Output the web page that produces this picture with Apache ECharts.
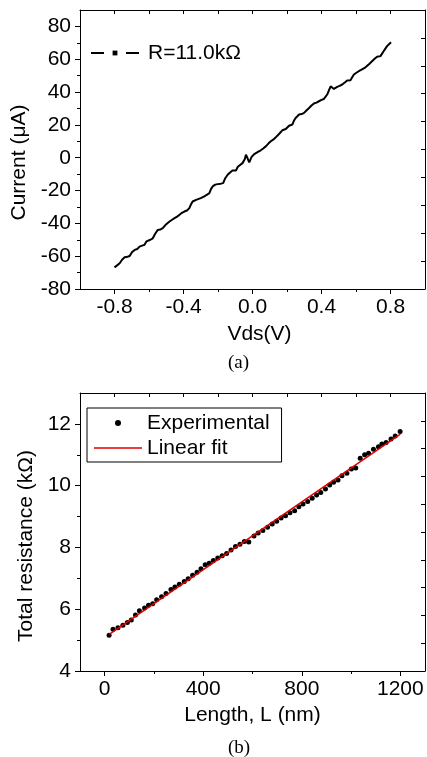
<!DOCTYPE html>
<html>
<head>
<meta charset="utf-8">
<script src="https://cdn.jsdelivr.net/npm/echarts@6/dist/echarts.min.js"></script>
<style>
html, body { margin: 0; padding: 0; background: #fff; }
#chart { width: 427px; height: 757px; }
</style>
</head>
<body>
<div id="chart"></div>
<script>
// (a) I-V curve
const vds = [-0.800, -0.785, -0.770, -0.755, -0.741, -0.725, -0.712, -0.698, -0.683, -0.668,
  -0.655, -0.640, -0.626, -0.615, -0.607, -0.592, -0.578, -0.565, -0.549, -0.535,
  -0.520, -0.500, -0.481, -0.466, -0.452, -0.437, -0.423, -0.409, -0.395, -0.380,
  -0.366, -0.356, -0.347, -0.327, -0.300, -0.279, -0.265, -0.250, -0.240, -0.231,
  -0.216, -0.202, -0.183, -0.170, -0.158, -0.144, -0.130, -0.116, -0.096, -0.085,
  -0.077, -0.058, -0.045, -0.038, -0.028, -0.019, -0.005, 0.010, 0.020, 0.034,
  0.048, 0.062, 0.077, 0.092, 0.106, 0.120, 0.135, 0.155, 0.173, 0.193,
  0.203, 0.212, 0.231, 0.240, 0.250, 0.270, 0.285, 0.299, 0.314, 0.328,
  0.342, 0.356, 0.371, 0.385, 0.400, 0.414, 0.424, 0.433, 0.443, 0.453,
  0.462, 0.472, 0.491, 0.505, 0.520, 0.535, 0.549, 0.568, 0.578, 0.588,
  0.600, 0.616, 0.635, 0.655, 0.675, 0.693, 0.708, 0.722, 0.742, 0.760,
  0.780, 0.803];
const current = [-66.8, -65.6, -64.3, -62.0, -60.7, -60.3, -59.9, -57.5, -56.2, -55.6,
  -54.2, -53.6, -53.1, -51.0, -50.1, -50.0, -49.1, -46.5, -44.0, -43.8,
  -42.9, -40.5, -38.9, -37.8, -36.8, -35.9, -34.8, -33.6, -32.8, -32.2,
  -30.7, -28.3, -26.7, -25.7, -24.6, -23.6, -22.6, -21.6, -19.0, -17.5,
  -16.4, -16.1, -15.8, -15.5, -12.5, -10.4, -9.0, -7.8, -7.8, -5.5,
  -4.3, -3.3, -1.0, 1.8, -0.5, -2.9, 0.5, 2.2, 2.9, 3.7,
  4.5, 5.6, 6.9, 8.6, 10.0, 11.0, 12.4, 14.6, 16.7, 17.5,
  18.6, 19.5, 20.2, 22.5, 24.2, 26.3, 26.6, 27.3, 28.9, 30.3,
  31.8, 33.0, 33.6, 34.4, 35.2, 35.8, 37.0, 38.5, 41.0, 43.5,
  42.5, 41.9, 43.2, 43.8, 44.6, 45.8, 47.0, 47.2, 49.0, 50.7,
  51.6, 52.7, 53.8, 55.1, 57.0, 58.8, 60.3, 61.5, 61.9, 64.9,
  68.0, 70.4];

// (b) resistance vs length
const lengthNm = [18, 34, 54, 74, 92, 108, 125, 141, 162, 178,
  195, 211, 231, 249, 269, 285, 303, 323, 339, 357,
  375, 391, 408, 424, 441, 459, 477, 495, 513, 531,
  549, 567, 585, 606, 623, 642, 661, 680, 698, 716,
  734, 752, 771, 788, 805, 824, 842, 860, 877, 896,
  913, 929, 947, 963, 983, 1001, 1019, 1037, 1055, 1071,
  1091, 1111, 1125, 1142, 1162, 1179, 1199];
const resistance = [5.16, 5.35, 5.40, 5.48, 5.57, 5.65, 5.81, 5.95, 6.04, 6.13,
  6.18, 6.31, 6.40, 6.51, 6.64, 6.72, 6.81, 6.90, 6.99, 7.10,
  7.20, 7.31, 7.44, 7.49, 7.58, 7.66, 7.73, 7.80, 7.92, 8.03,
  8.10, 8.19, 8.18, 8.37, 8.47, 8.55, 8.65, 8.76, 8.85, 8.95,
  9.03, 9.12, 9.19, 9.32, 9.41, 9.49, 9.59, 9.70, 9.78, 9.89,
  10.02, 10.11, 10.18, 10.32, 10.40, 10.54, 10.57, 10.89, 11.00, 11.05,
  11.18, 11.26, 11.35, 11.40, 11.51, 11.61, 11.75];
const fitLength = [20, 1200];
const fitResistance = [5.19, 11.67];

// ticks
const vdsTicks = [-0.8, -0.4, 0, 0.4, 0.8];
const vdsMinor = [-0.6, -0.2, 0.2, 0.6];
const currentTicks = [-80, -60, -40, -20, 0, 20, 40, 60, 80];
const currentMinor = [-70, -50, -30, -10, 10, 30, 50, 70];
const lengthTicks = [0, 400, 800, 1200];
const lengthMinor = [200, 600, 1000];
const resTicks = [4, 6, 8, 10, 12];
const resMinor = [5, 7, 9, 11];

const FONT = 'Liberation Sans';
const black = '#000';
const red = '#e00000';

function labelAxis(grid, pos, min, max, ticks, fmt, name, nameGap, namePad, margin) {
  return {
    type: 'value', gridIndex: grid, position: pos, min: min, max: max,
    axisLine: { show: true, onZero: false, lineStyle: { color: black, width: 1 } },
    axisTick: { show: true, inside: false, length: 5, customValues: ticks, lineStyle: { color: black } },
    axisLabel: { show: true, customValues: ticks, formatter: fmt, margin: margin,
      color: black, fontSize: 21, fontFamily: FONT },
    splitLine: { show: false },
    name: name, nameLocation: 'middle', nameGap: nameGap,
    nameTextStyle: { color: black, fontSize: 21, fontFamily: FONT, padding: namePad }
  };
}
function minorAxis(grid, pos, min, max, ticks) {
  return {
    type: 'value', gridIndex: grid, position: pos, min: min, max: max,
    axisLine: { show: false, onZero: false },
    axisTick: { show: true, inside: false, length: 3, customValues: ticks, lineStyle: { color: black } },
    axisLabel: { show: false },
    splitLine: { show: false }
  };
}
function frameAxis(grid, pos) {
  return {
    type: 'value', gridIndex: grid, position: pos, min: 0, max: 10, interval: 1,
    axisLine: { show: true, onZero: false, lineStyle: { color: black, width: 1 } },
    axisTick: { show: true, inside: true, length: 4, lineStyle: { color: black } },
    axisLabel: { show: false },
    splitLine: { show: false }
  };
}

const chart = echarts.init(document.getElementById('chart'));
chart.setOption({
  animation: false,
  backgroundColor: '#fff',
  title: [
    { text: '(a)', left: 228, top: 354, padding: 0,
      textStyle: { fontFamily: 'Liberation Serif', fontSize: 19, fontWeight: 'normal', color: black } },
    { text: '(b)', left: 228, top: 739, padding: 0,
      textStyle: { fontFamily: 'Liberation Serif', fontSize: 19, fontWeight: 'normal', color: black } }
  ],
  grid: [
    { left: 80, top: 10, right: 2, height: 279 },
    { left: 80, top: 393, right: 2, height: 278 }
  ],
  legend: [
    { data: ['R=11.0kΩ'], left: 90, top: 42, padding: 0, itemWidth: 48, itemHeight: 6,
      lineStyle: { type: [13, 22], width: 2 },
      textStyle: { color: black, fontSize: 21, fontFamily: FONT, lineHeight: 22, padding: [0, 0, 0, 4] } },
    { data: [
        { name: 'Experimental', icon: 'circle' },
        { name: 'Linear fit', icon: 'path://M0,0L48,0L48,1.5L0,1.5Z' }
      ],
      left: 87, top: 408, orient: 'vertical',
      padding: [4, 12, 3, 7], itemGap: 3, itemWidth: 48, itemHeight: 6,
      borderColor: black, borderWidth: 1,
      textStyle: { color: black, fontSize: 21, fontFamily: FONT, lineHeight: 22 } }
  ],
  xAxis: [
    labelAxis(0, 'bottom', -1, 1, vdsTicks, v => v.toFixed(1), 'Vds(V)', 35, [0, 0, 0, 14], 8),
    minorAxis(0, 'bottom', -1, 1, vdsMinor),
    frameAxis(0, 'top'),
    labelAxis(1, 'bottom', -100, 1300, lengthTicks, v => String(v), 'Length, L (nm)', 34, 0, 8),
    minorAxis(1, 'bottom', -100, 1300, lengthMinor),
    frameAxis(1, 'top')
  ],
  yAxis: [
    labelAxis(0, 'left', -80, 90, currentTicks, v => String(v), 'Current (μA)', 50, [0, 26, 0, 0], 9),
    minorAxis(0, 'left', -80, 90, currentMinor),
    frameAxis(0, 'right'),
    labelAxis(1, 'left', 4, 13, resTicks, v => String(v), 'Total resistance (kΩ)', 41, [0, 28, 0, 0], 9),
    minorAxis(1, 'left', 4, 13, resMinor),
    frameAxis(1, 'right')
  ],
  series: [
    {
      name: 'R=11.0kΩ', type: 'line', xAxisIndex: 0, yAxisIndex: 0,
      data: vds.map((v, i) => [v, current[i]]),
      symbol: 'rect', symbolSize: 5, showSymbol: false,
      lineStyle: { color: black, width: 2 }, itemStyle: { color: black }
    },
    {
      name: 'Experimental', type: 'scatter', xAxisIndex: 3, yAxisIndex: 3,
      data: lengthNm.map((v, i) => [v, resistance[i]]),
      symbol: 'circle', symbolSize: 5, itemStyle: { color: black, opacity: 1 }
    },
    {
      name: 'Linear fit', type: 'line', xAxisIndex: 3, yAxisIndex: 3,
      data: fitLength.map((v, i) => [v, fitResistance[i]]),
      symbol: 'none', lineStyle: { color: red, width: 1.5 }, itemStyle: { color: red }
    }
  ]
});
</script>
</body>
</html>
